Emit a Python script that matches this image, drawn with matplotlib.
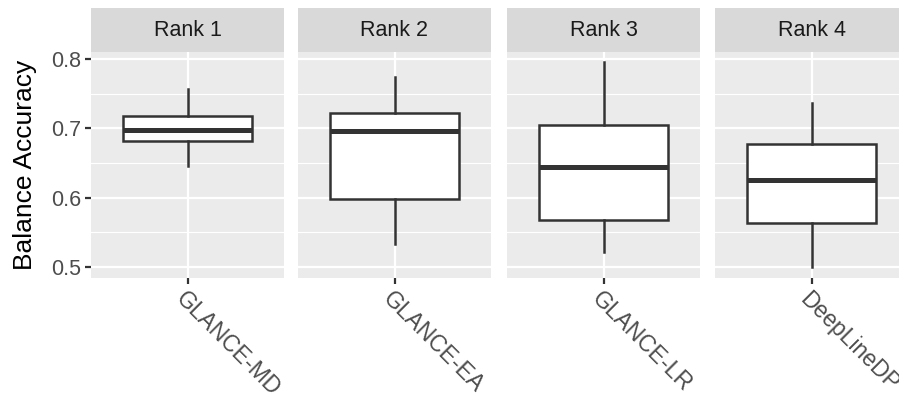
import matplotlib
matplotlib.use('Agg')
import matplotlib.pyplot as plt

plt.rcParams['font.family'] = ['Liberation Sans', 'DejaVu Sans']

# Balance accuracy distribution per ranked method
ranks = ['Rank 1', 'Rank 2', 'Rank 3', 'Rank 4']
methods = ['GLANCE-MD', 'GLANCE-EA', 'GLANCE-LR', 'DeepLineDP']
whislo = [0.645, 0.533, 0.521, 0.500]
q1 = [0.681, 0.598, 0.567, 0.564]
med = [0.698, 0.696, 0.644, 0.625]
q3 = [0.718, 0.722, 0.704, 0.677]
whishi = [0.757, 0.774, 0.795, 0.736]

W, H = 899, 408
fig = plt.figure(figsize=(W / 100, H / 100), dpi=100)
fig.patch.set_facecolor('white')

lefts = [91, 298, 507, 715]
pw = 193
p_top, p_bot, s_top = 52, 278, 8

for i, left in enumerate(lefts):
    ax = fig.add_axes([left / W, 1 - p_bot / H, pw / W, (p_bot - p_top) / H])
    ax.set_facecolor('#EBEBEB')
    stats = [dict(whislo=whislo[i], q1=q1[i], med=med[i], q3=q3[i], whishi=whishi[i], fliers=[])]
    ax.bxp(stats, positions=[0], widths=0.8, showcaps=False, patch_artist=True,
           boxprops=dict(facecolor='white', edgecolor='#333333', linewidth=1.8),
           whiskerprops=dict(color='#333333', linewidth=1.8),
           medianprops=dict(color='#333333', linewidth=3.6), zorder=3)
    ax.set_xlim(-0.6, 0.6)
    ax.set_ylim(0.484, 0.81)
    ax.set_yticks([0.5, 0.6, 0.7, 0.8])
    ax.set_yticks([0.55, 0.65, 0.75], minor=True)
    ax.set_xticks([0])
    ax.set_xticklabels([methods[i]], rotation=-45, ha='left', va='top',
                       rotation_mode='anchor', fontsize=16.5, color='#4D4D4D')
    ax.grid(which='major', color='white', linewidth=1.6, zorder=0)
    ax.grid(which='minor', axis='y', color='white', linewidth=0.8, zorder=0)
    ax.set_axisbelow(True)
    for s in ax.spines.values():
        s.set_visible(False)
    ax.tick_params(which='minor', length=0)
    ax.tick_params(which='major', length=4, width=1.6, color='#333333', pad=3)
    if i == 0:
        ax.set_yticklabels(['0.5', '0.6', '0.7', '0.8'], fontsize=15.5, color='#4D4D4D')
        ax.set_ylabel('Balance Accuracy', fontsize=19, color='black', labelpad=10)
    else:
        ax.tick_params(axis='y', which='both', left=False, labelleft=False)

    # facet strip
    sx = fig.add_axes([left / W, 1 - p_top / H, pw / W, (p_top - s_top) / H])
    sx.set_facecolor('#D9D9D9')
    sx.set_xticks([])
    sx.set_yticks([])
    for s in sx.spines.values():
        s.set_visible(False)
    sx.text(0.5, 0.5, ranks[i], ha='center', va='center', fontsize=15.5,
            color='#1A1A1A', transform=sx.transAxes)

fig.savefig('out.png', dpi=100)
